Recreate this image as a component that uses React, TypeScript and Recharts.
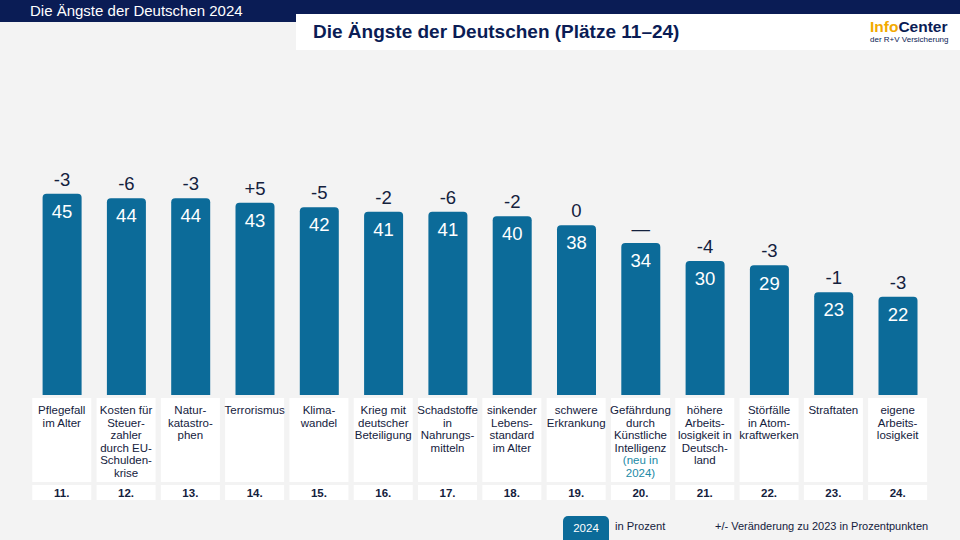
import React from 'react';
import { BarChart, Bar, XAxis, YAxis, LabelList } from 'recharts';

const categories: string[][] = [
  ['Pflegefall', 'im Alter'],
  ['Kosten für', 'Steuer-', 'zahler', 'durch EU-', 'Schulden-', 'krise'],
  ['Natur-', 'katastro-', 'phen'],
  ['Terrorismus'],
  ['Klima-', 'wandel'],
  ['Krieg mit', 'deutscher', 'Beteiligung'],
  ['Schadstoffe', 'in', 'Nahrungs-', 'mitteln'],
  ['sinkender', 'Lebens-', 'standard', 'im Alter'],
  ['schwere', 'Erkrankung'],
  ['Gefährdung', 'durch', 'Künstliche', 'Intelligenz', '(neu in', '2024)'],
  ['höhere', 'Arbeits-', 'losigkeit in', 'Deutsch-', 'land'],
  ['Störfälle', 'in Atom-', 'kraftwerken'],
  ['Straftaten'],
  ['eigene', 'Arbeits-', 'losigkeit'],
];
const values2024 = [45, 44, 44, 43, 42, 41, 41, 40, 38, 34, 30, 29, 23, 22];
const changes = ['-3', '-6', '-3', '+5', '-5', '-2', '-6', '-2', '0', '—', '-4', '-3', '-1', '-3'];
const ranks = ['11.', '12.', '13.', '14.', '15.', '16.', '17.', '18.', '19.', '20.', '21.', '22.', '23.', '24.'];
const newLines = ['(neu in', '2024)'];

const BLUE = '#0c6b99';
const NAVY = '#0a1c55';
const TEXT = '#14213d';
const FONT = '"Liberation Sans", Arial, Helvetica, sans-serif';

const data = categories.map((lines, i) => ({
  name: lines.join(' '),
  value: values2024[i],
  change: changes[i],
}));

function CategoryTick(props: any) {
  const { x, index } = props;
  const lines = categories[index] || [];
  const boxW = 59;
  return (
    <g>
      <rect x={x - boxW / 2} y={398} width={boxW} height={84} fill="#ffffff" />
      <text textAnchor="middle" fontSize={11.5} fontFamily={FONT}>
        {lines.map((l, i) => (
          <tspan
            key={i}
            x={x}
            y={414 + i * 12.6}
            fill={index === 9 && newLines.includes(l) ? '#1b8aa6' : TEXT}
          >
            {l}
          </tspan>
        ))}
      </text>
      <rect x={x - boxW / 2} y={485} width={boxW} height={15} fill="#ffffff" />
      <text x={x} y={496.5} textAnchor="middle" fontSize={11.5} fontWeight="bold" fontFamily={FONT} fill={TEXT}>
        {ranks[index]}
      </text>
    </g>
  );
}

export default function App() {
  return (
    <div
      style={{
        position: 'absolute',
        left: 0,
        top: 0,
        width: 960,
        height: 540,
        background: '#f3f3f3',
        fontFamily: FONT,
        overflow: 'hidden',
      }}
    >
      <div style={{ position: 'absolute', left: 0, top: 0, width: 960, height: 22, background: NAVY }} />
      <div style={{ position: 'absolute', left: 30, top: 2, color: '#fff', fontSize: 15 }}>
        Die Ängste der Deutschen 2024
      </div>
      <div style={{ position: 'absolute', left: 296, top: 14, width: 664, height: 36, background: '#fff' }} />
      <div style={{ position: 'absolute', left: 313, top: 21, color: NAVY, fontSize: 19, fontWeight: 'bold' }}>
        Die Ängste der Deutschen (Plätze 11–24)
      </div>
      <div style={{ position: 'absolute', left: 870, top: 18, fontSize: 15.5, fontWeight: 'bold', lineHeight: '18px' }}>
        <span style={{ color: '#f2a900' }}>Info</span>
        <span style={{ color: NAVY }}>Center</span>
      </div>
      <div style={{ position: 'absolute', left: 870, top: 35, fontSize: 8, color: NAVY }}>
        der R+V Versicherung
      </div>

      <div style={{ position: 'absolute', left: 0, top: 0 }}>
        <BarChart
          width={960}
          height={540}
          data={data}
          margin={{ top: 171.5, right: 30.2, bottom: 0, left: 29.6 }}
          barCategoryGap={0}
        >
          <XAxis
            dataKey="name"
            height={145}
            axisLine={false}
            tickLine={false}
            interval={0}
            tick={<CategoryTick />}
          />
          <YAxis hide domain={[0, 50]} />
          <Bar dataKey="value" fill={BLUE} barSize={39} radius={[4, 4, 0, 0]} isAnimationActive={false}>
            <LabelList
              dataKey="value"
              position="insideTop"
              offset={11}
              fill="#ffffff"
              fontSize={18.5}
              fontFamily={FONT}
            />
            <LabelList
              dataKey="change"
              position="top"
              offset={8}
              fill={TEXT}
              fontSize={18.5}
              fontFamily={FONT}
            />
          </Bar>
        </BarChart>
      </div>

      <div
        style={{
          position: 'absolute',
          left: 563,
          top: 516,
          width: 46,
          height: 24,
          background: BLUE,
          borderRadius: '5px 5px 0 0',
          color: '#fff',
          fontSize: 11.5,
          textAlign: 'center',
          lineHeight: '24px',
        }}
      >
        2024
      </div>
      <div style={{ position: 'absolute', left: 615, top: 520, fontSize: 11.2, color: TEXT }}>in Prozent</div>
      <div style={{ position: 'absolute', left: 715, top: 520, fontSize: 11, color: TEXT }}>
        +/- Veränderung zu 2023 in Prozentpunkten
      </div>
    </div>
  );
}
